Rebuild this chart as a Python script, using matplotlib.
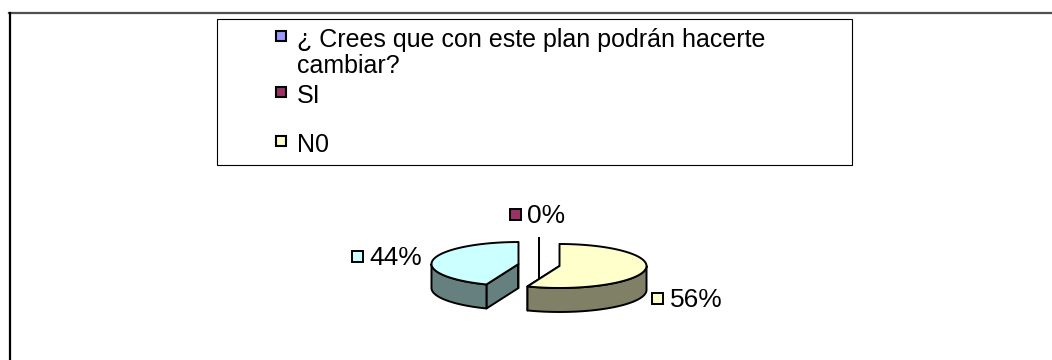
import numpy as np
import matplotlib.pyplot as plt
from matplotlib.patches import Polygon, Rectangle

plt.rcParams["font.family"] = ["Liberation Sans", "DejaVu Sans"]

# legend entries (the question itself is the first series name)
LEGEND_LABELS = ["¿ Crees que con este plan podrán hacerte\ncambiar?", "SI", "N0"]
LEGEND_COLORS = ["#9999FF", "#993366", "#FFFFCC"]

# pie slices, clockwise from 12 o'clock
SLICE_VALUES = [0, 56, 44]
SLICE_COLORS = ["#993366", "#FFFFCC", "#CCFFFF"]
SIDE_COLORS = ["#4C1933", "#808066", "#668080"]

# pie geometry in pixels
CX, CY = 539, 265
RX, RY = 87, 22
DEPTH = 24
EXPLODE = 0.24
LABEL_OFFSETS = [(-24, -45), (98, 33), (-161, -8)]


def ellipse_pts(cx, cy, a1, a2, n=60):
    th = np.linspace(a1, a2, n)
    return np.column_stack([cx + RX * np.sin(th), cy - RY * np.cos(th)])


def draw_pie(ax):
    total = sum(SLICE_VALUES)
    bounds = np.concatenate([[0], np.cumsum(SLICE_VALUES)]) / total * 2 * np.pi
    walls, sides, tops, labels = [], [], [], []

    for i, v in enumerate(SLICE_VALUES):
        a1, a2 = bounds[i], bounds[i + 1]
        m = (a1 + a2) / 2
        cx = CX + EXPLODE * RX * np.sin(m)
        cy = CY - EXPLODE * RY * np.cos(m)

        for a in (a1, a2):
            px, py = cx + RX * np.sin(a), cy - RY * np.cos(a)
            walls.append(([(cx, cy), (px, py), (px, py + DEPTH), (cx, cy + DEPTH)], SIDE_COLORS[i]))

        lo, hi = max(a1, np.pi / 2), min(a2, 3 * np.pi / 2)
        if hi > lo:
            arc = ellipse_pts(cx, cy, lo, hi)
            low = arc[::-1] + [0, DEPTH]
            sides.append((np.vstack([arc, low]), SIDE_COLORS[i]))

        top = np.vstack([[cx, cy], ellipse_pts(cx, cy, a1, a2)])
        tops.append((top, SLICE_COLORS[i]))
        labels.append((cx, cy, f"{round(v / total * 100)}%", SLICE_COLORS[i]))

    for z, group in enumerate((walls, sides, tops)):
        for pts, color in group:
            ax.add_patch(Polygon(pts, closed=True, facecolor=color,
                                 edgecolor="black", lw=1.4, zorder=2 + z,
                                 joinstyle="round"))

    for (cx, cy, text, color), (dx, dy) in zip(labels, LABEL_OFFSETS):
        sx, sy = cx + dx, cy + dy
        ax.add_patch(Rectangle((sx - 5.5, sy - 5.5), 11, 11, facecolor=color,
                               edgecolor="black", lw=1.4, zorder=6))
        ax.text(sx + 12, sy + 8.5, text, fontsize=19, ha="left", va="baseline", zorder=6)


def draw_legend(ax):
    ax.add_patch(Rectangle((217, 19), 635, 146, facecolor="white",
                           edgecolor="black", lw=0.8, zorder=1))
    rows = [35.5, 91.5, 141]
    for label, color, y in zip(LEGEND_LABELS, LEGEND_COLORS, rows):
        ax.add_patch(Rectangle((276, y - 5), 10, 10, facecolor=color,
                               edgecolor="black", lw=1.5, zorder=2))
        # wrapped names continue on the lines below the marker
        for k, line in enumerate(label.split("\n")):
            ax.text(297, y + 11.5 + 26 * k, line, fontsize=18, ha="left",
                    va="baseline", zorder=2)


fig = plt.figure(figsize=(10.52, 3.6), dpi=100)
ax = fig.add_axes([0, 0, 1, 1])
ax.set_xlim(0, 1052)
ax.set_ylim(360, 0)
ax.axis("off")

# chart area border (only top and left edges fall inside the image)
ax.plot([9, 1052], [12.5, 12.5], color="#505050", lw=1.6)
ax.plot([10, 10], [12.5, 360], color="black", lw=1.6)

draw_legend(ax)
draw_pie(ax)

fig.savefig("out.png", dpi=100)
